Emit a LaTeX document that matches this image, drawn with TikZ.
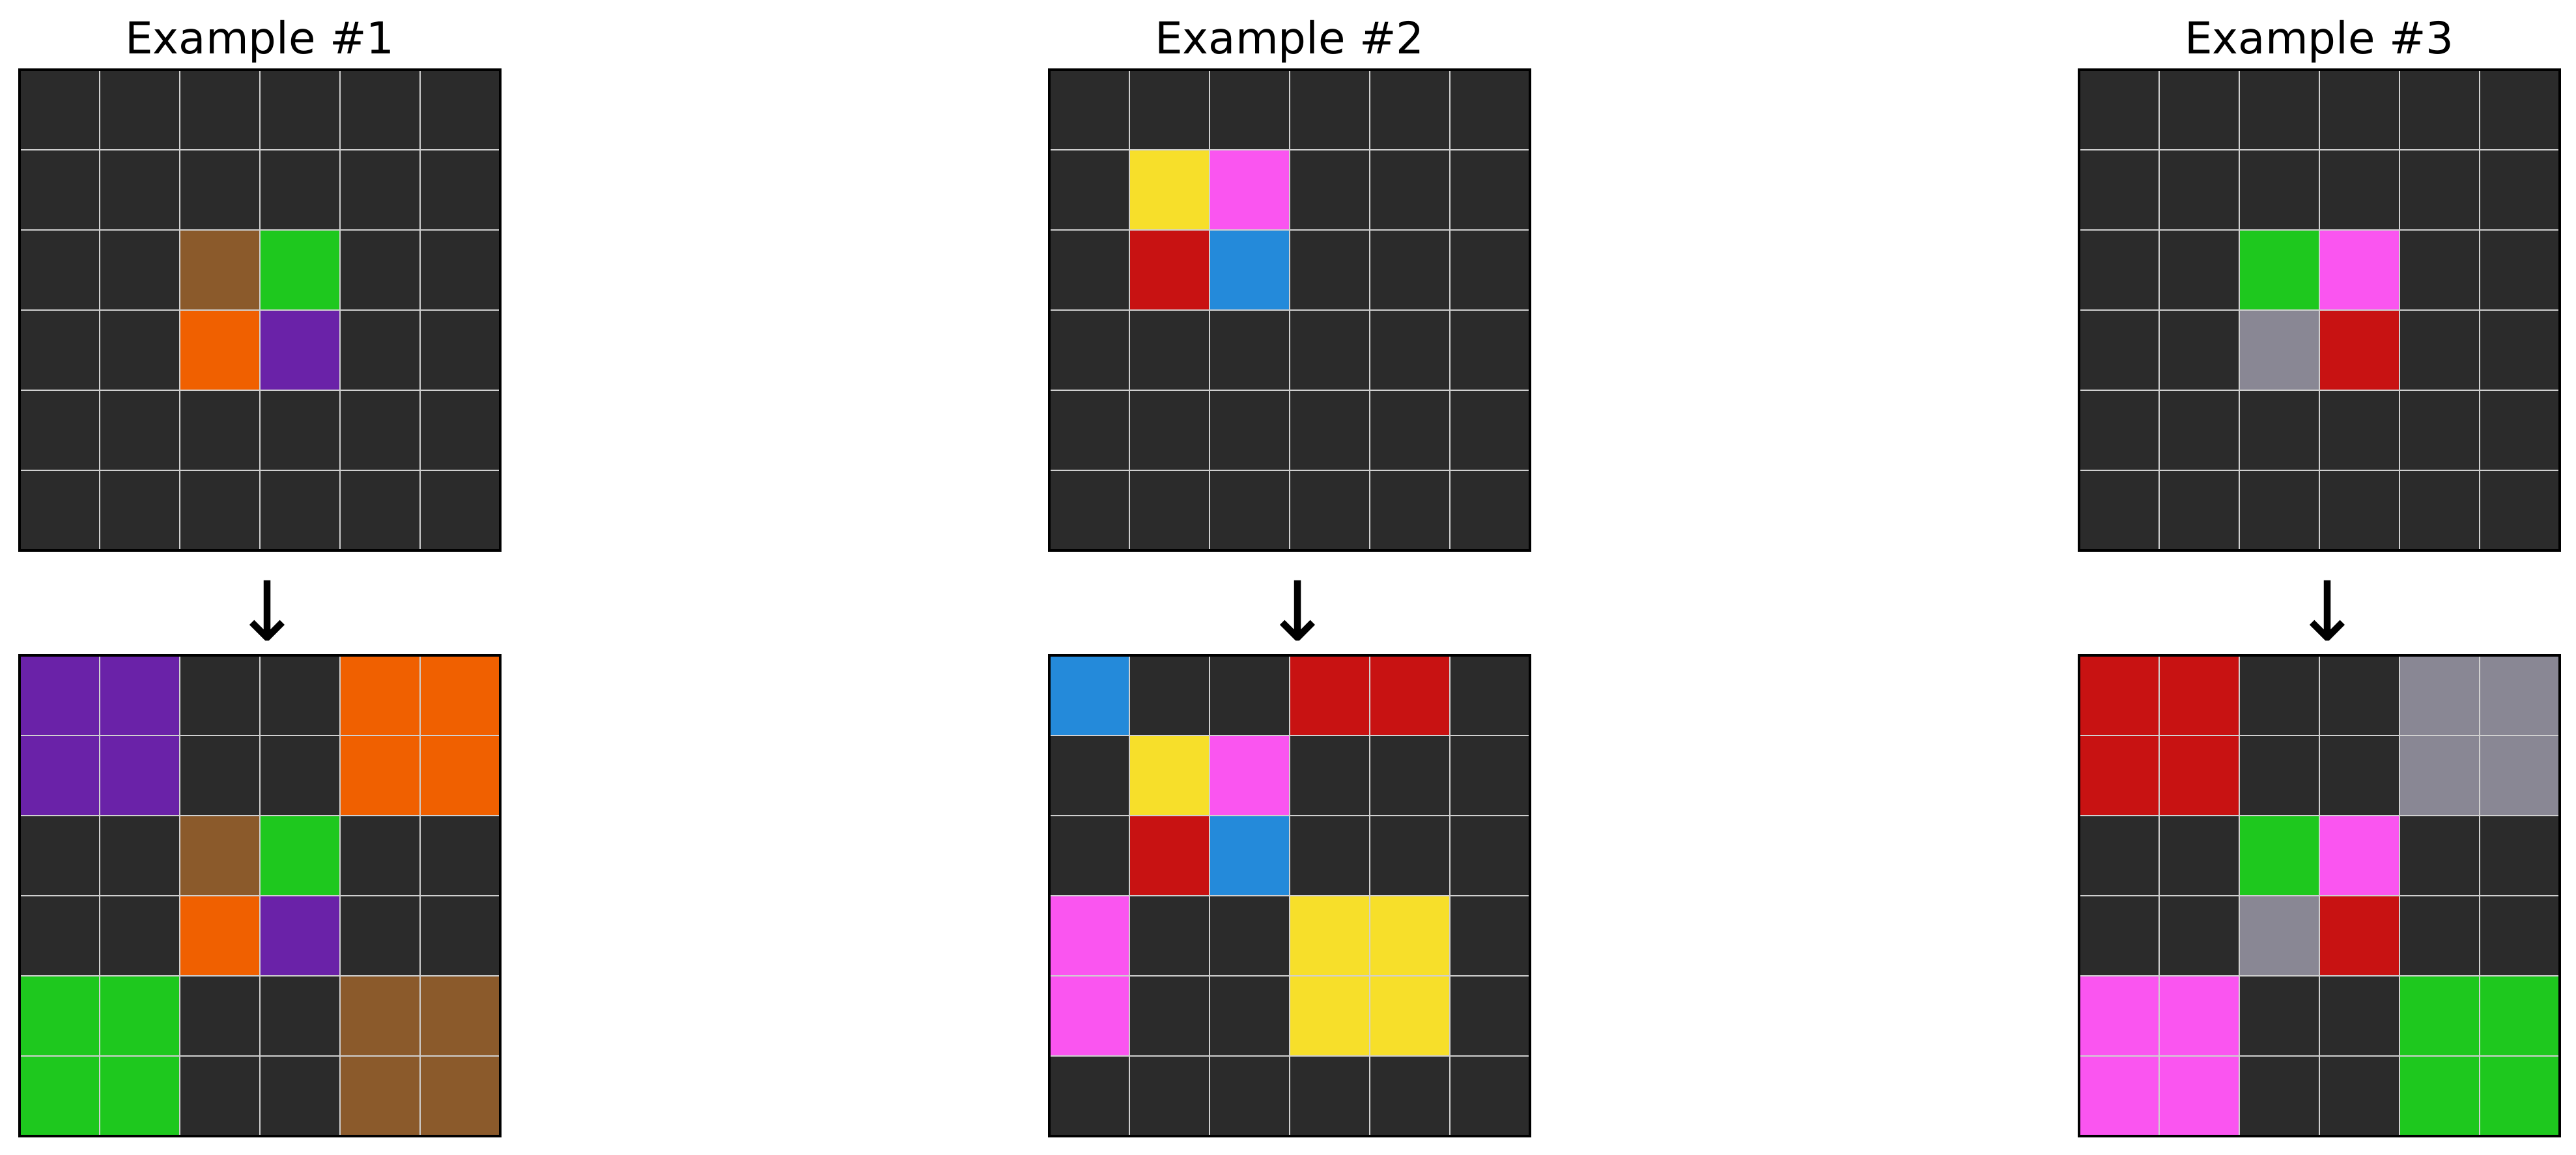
\documentclass[tikz,border=0pt]{standalone}
\usepackage{fontspec}
\setmainfont{DejaVu Sans}
\usetikzlibrary{calc}

\definecolor{cdark}{HTML}{2B2B2B}
\definecolor{cgrid}{HTML}{D0D0D0}
\definecolor{cbrown}{HTML}{8B5A2B}
\definecolor{cgreen}{HTML}{1EC81E}
\definecolor{corange}{HTML}{F06000}
\definecolor{cpurple}{HTML}{6A22A8}
\definecolor{cyellow}{HTML}{F7DF2A}
\definecolor{cmagenta}{HTML}{FA55F0}
\definecolor{cred}{HTML}{C81212}
\definecolor{cblue}{HTML}{248ADA}
\definecolor{cgray}{HTML}{898794}

\begin{document}
\begin{tikzpicture}[x=1cm,y=-1cm]

\def\sz{1.23}
\tikzstyle{block} = [
	draw=cgrid, fill=cdark, rectangle, line width=0.57pt,
	inner sep=0pt, outer sep=0pt, minimum size=\sz cm ];
\tikzstyle{frame} = [draw=black, line width=0.9pt, fill=none];
\tikzstyle{title} = [anchor=base, inner sep=0pt, font=\fontsize{19.2}{20}\selectfont];
\tikzstyle{arrow} = [inner sep=0pt, font=\fontsize{36}{36}\selectfont];
\useasboundingbox[fill=white] (0,0) rectangle (39.55,17.72);

% empty grids
\foreach \g/\x/\y in {in1/0.30/1.07, out1/0.30/10.06, in2/16.11/1.07,
	out2/16.11/10.06, in3/31.92/1.07, out3/31.92/10.06}
	\foreach \r in {0,...,5}
		\foreach \c in {0,...,5}
			\node[block] (\g-\r-\c) at (\x+\c*\sz+\sz/2, \y+\r*\sz+\sz/2) {};

% coloured cells
\foreach \g/\r/\c/\col in {
	in1/2/2/cbrown, in1/2/3/cgreen, in1/3/2/corange, in1/3/3/cpurple,
	out1/0/0/cpurple, out1/0/1/cpurple, out1/1/0/cpurple, out1/1/1/cpurple,
	out1/0/4/corange, out1/0/5/corange, out1/1/4/corange, out1/1/5/corange,
	out1/2/2/cbrown, out1/2/3/cgreen, out1/3/2/corange, out1/3/3/cpurple,
	out1/4/0/cgreen, out1/4/1/cgreen, out1/5/0/cgreen, out1/5/1/cgreen,
	out1/4/4/cbrown, out1/4/5/cbrown, out1/5/4/cbrown, out1/5/5/cbrown,
	in2/1/1/cyellow, in2/1/2/cmagenta, in2/2/1/cred, in2/2/2/cblue,
	out2/0/0/cblue, out2/0/3/cred, out2/0/4/cred,
	out2/1/1/cyellow, out2/1/2/cmagenta, out2/2/1/cred, out2/2/2/cblue,
	out2/3/0/cmagenta, out2/4/0/cmagenta,
	out2/3/3/cyellow, out2/3/4/cyellow, out2/4/3/cyellow, out2/4/4/cyellow,
	in3/2/2/cgreen, in3/2/3/cmagenta, in3/3/2/cgray, in3/3/3/cred,
	out3/0/0/cred, out3/0/1/cred, out3/1/0/cred, out3/1/1/cred,
	out3/0/4/cgray, out3/0/5/cgray, out3/1/4/cgray, out3/1/5/cgray,
	out3/2/2/cgreen, out3/2/3/cmagenta, out3/3/2/cgray, out3/3/3/cred,
	out3/4/0/cmagenta, out3/4/1/cmagenta, out3/5/0/cmagenta, out3/5/1/cmagenta,
	out3/4/4/cgreen, out3/4/5/cgreen, out3/5/4/cgreen, out3/5/5/cgreen}
	\node[block,fill=\col] at (\g-\r-\c) {};

\foreach \g in {in1,out1,in2,out2,in3,out3}
	\draw[frame] (\g-0-0.north west) rectangle (\g-5-5.south east);

% titles and arrows
\foreach \n in {1,2,3} {
	\node[title] (t\n) at ([yshift=0.25cm]in\n-0-2.north east) {Example \#\n};
	\node[arrow] (a\n) at ([xshift=0.12cm,yshift=-0.12cm]$(in\n-5-2.south east)!0.5!(out\n-0-2.north east)$) {↓};
}

\end{tikzpicture}
\end{document}
